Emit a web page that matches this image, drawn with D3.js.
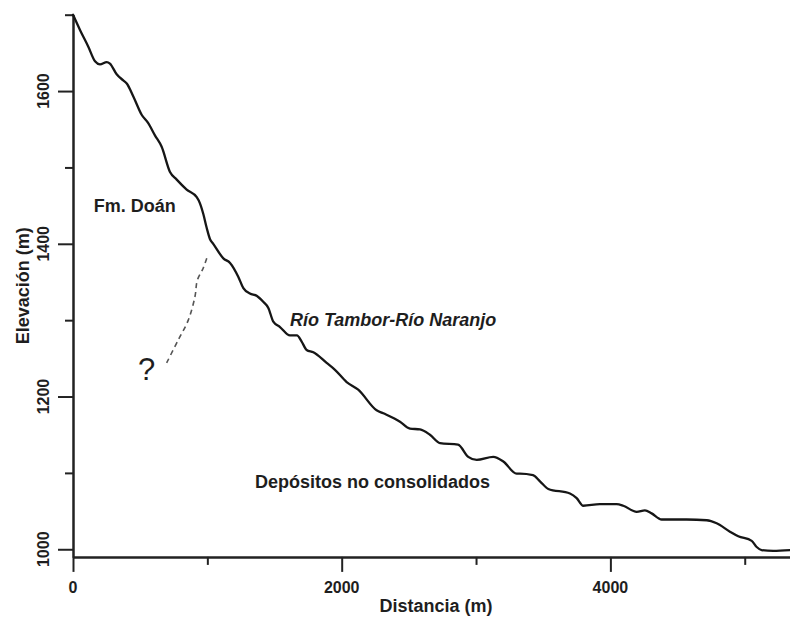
<!DOCTYPE html>
<html>
<head>
<meta charset="utf-8">
<script src="https://cdn.jsdelivr.net/npm/d3@7"></script>
<style>
  html, body { margin: 0; padding: 0; background: #fff; }
  svg { display: block; }
  text { font-family: "Liberation Sans", Arial, Helvetica, sans-serif; fill: #1e1e1e; }
</style>
</head>
<body>
<svg id="chart" width="790" height="619"></svg>
<script>
// ---- data ----
const distance = [0,52,114,164,201,251,275,325,374,400,449,511,560,610,660,722,772,846,921,945,970,995,1020,1044,1119,1169,1230,1268,1317,1367,1416,1454,1491,1541,1615,1667,1702,1739,1789,1888,1950,2037,2123,2260,2310,2434,2508,2583,2657,2732,2866,2942,3005,3128,3203,3302,3327,3424,3476,3538,3699,3749,3798,3922,4047,4096,4196,4257,4307,4382,4568,4717,4791,4890,4952,5052,5089,5126,5212,5337];
const elevation = [1700,1680,1658,1639,1635,1638,1636,1622,1614,1610,1593,1569,1558,1542,1527,1494,1484,1471,1461,1453,1439,1421,1406,1400,1381,1375,1357,1342,1335,1332,1324,1316,1298,1291,1280,1280,1272,1261,1258,1244,1235,1219,1209,1182,1178,1167,1158,1157,1150,1139,1137,1121,1117,1121,1115,1099,1099,1097,1089,1079,1073,1067,1057,1059,1059,1057,1049,1051,1047,1039,1039,1038,1034,1023,1017,1011,1003,999,998,999];
// inferred contact (dashed)
const contactDistance = [697,783,858,908,925,969,999];
const contactElevation = [1244,1274,1300,1331,1352,1368,1383];

const xMajorTicks = [0,2000,4000];
const xMinorTicks = [1000,3000,5000];
const yMajorTicks = [1000,1200,1400,1600];
const yMinorTicks = [1100,1300,1500,1700];

const xTitle = "Distancia (m)";
const yTitle = "Elevación (m)";
const labels = [
  {text: "Fm. Doán", d: 155, e: 1441, style: "normal"},
  {text: "Río Tambor-Río Naranjo", d: 1615, e: 1292, style: "italic"},
  {text: "Depósitos no consolidados", d: 1355, e: 1080, style: "normal"}
];

// ---- layout ----
const svg = d3.select("#chart");
const x = d3.scaleLinear().domain([0, 5337]).range([73, 790]);
const y = d3.scaleLinear().domain([990, 1700]).range([556.9, 14.7]);

// axes
const axisStyle = g => {
  g.selectAll("path.domain").attr("stroke", "#222").attr("stroke-width", 2);
  g.selectAll(".tick line").attr("stroke", "#222").attr("stroke-width", 2);
  g.selectAll(".tick text").remove();
};

svg.append("g").attr("transform", `translate(0,${y(990)})`)
  .call(d3.axisBottom(x).tickValues(xMinorTicks).tickSize(8).tickSizeOuter(0).tickFormat(""))
  .call(axisStyle);
svg.append("g").attr("transform", `translate(0,${y(990)})`)
  .call(d3.axisBottom(x).tickValues(xMajorTicks).tickSize(15).tickSizeOuter(0).tickFormat(""))
  .call(axisStyle);
svg.append("g").attr("transform", `translate(${x(0)},0)`)
  .call(d3.axisLeft(y).tickValues(yMinorTicks).tickSize(8).tickSizeOuter(0).tickFormat(""))
  .call(axisStyle);
svg.append("g").attr("transform", `translate(${x(0)},0)`)
  .call(d3.axisLeft(y).tickValues(yMajorTicks).tickSize(15).tickSizeOuter(0).tickFormat(""))
  .call(axisStyle);

// tick labels
svg.append("g").selectAll("text").data(xMajorTicks).join("text")
  .attr("x", d => x(d)).attr("y", 593)
  .attr("text-anchor", "middle")
  .style("font-size", "16px").style("font-weight", "bold")
  .text(d => d);
svg.append("g").selectAll("text").data(yMajorTicks).join("text")
  .attr("transform", d => `translate(48.5,${y(d)}) rotate(-90)`)
  .attr("text-anchor", "middle")
  .style("font-size", "16px").style("font-weight", "bold")
  .text(d => d);

// axis titles
svg.append("text").attr("x", 436).attr("y", 612)
  .attr("text-anchor", "middle")
  .style("font-size", "18px").style("font-weight", "bold")
  .text(xTitle);
svg.append("text").attr("transform", `translate(29,${(y(990)+y(1700))/2}) rotate(-90)`)
  .attr("text-anchor", "middle")
  .style("font-size", "18px").style("font-weight", "bold")
  .text(yTitle);

// profile line
const profile = distance.map((d, i) => [d, elevation[i]]);
svg.append("path").datum(profile)
  .attr("fill", "none").attr("stroke", "#161616").attr("stroke-width", 2.3)
  .attr("stroke-linejoin", "round").attr("stroke-linecap", "round")
  .attr("d", d3.line().x(d => x(d[0])).y(d => y(d[1])).curve(d3.curveMonotoneX));

// dashed contact
const contact = contactDistance.map((d, i) => [d, contactElevation[i]]);
svg.append("path").datum(contact)
  .attr("fill", "none").attr("stroke", "#555").attr("stroke-width", 1.6)
  .attr("stroke-dasharray", "5,4")
  .attr("d", d3.line().x(d => x(d[0])).y(d => y(d[1])).curve(d3.curveCatmullRom));

svg.append("text").attr("x", 138).attr("y", 380)
  .style("font-size", "31px").style("font-weight", "normal")
  .text("?");

// region labels
svg.append("g").selectAll("text").data(labels).join("text")
  .attr("x", d => x(d.d)).attr("y", d => y(d.e))
  .style("font-size", "18px").style("font-weight", "bold")
  .style("font-style", d => d.style)
  .text(d => d.text);
</script>
</body>
</html>
